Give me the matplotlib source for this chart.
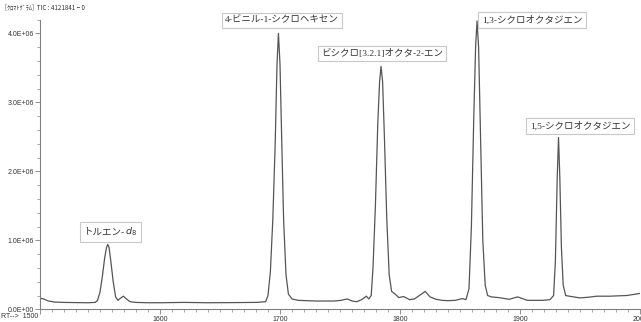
import matplotlib.pyplot as plt
from matplotlib.ticker import MultipleLocator, FixedLocator
from matplotlib.offsetbox import TextArea, HPacker, AnnotationBbox

# retention time (RT) and TIC intensity (x1e6 counts)
rt = [1500, 1503, 1507, 1512, 1520, 1530, 1540, 1546, 1548, 1550, 1552, 1554,
      1555.5, 1556.5, 1557.5, 1559, 1561, 1563, 1565, 1567, 1569.5, 1572, 1575,
      1580, 1590, 1600, 1620, 1640, 1660, 1680, 1688, 1690, 1692, 1694, 1696,
      1697.5, 1698.7, 1700, 1701.5, 1703, 1705, 1707, 1710, 1715, 1730, 1745,
      1751, 1756, 1760, 1764, 1768, 1772, 1774, 1776, 1777.5, 1779.5, 1781.5,
      1783, 1784.2, 1785.5, 1787, 1789, 1791, 1793, 1796, 1799, 1803, 1808,
      1812, 1817, 1821, 1825, 1830, 1835, 1840, 1846, 1852, 1855, 1857.5,
      1859.5, 1861.5, 1863, 1864.2, 1865.5, 1867, 1869, 1871, 1873, 1876, 1882,
      1891, 1898, 1906, 1913, 1919, 1925, 1928, 1929.5, 1931, 1932.1, 1933.2,
      1934.5, 1936, 1938, 1941, 1950, 1957, 1964, 1975, 1989, 2000]
tic = [0.16, 0.15, 0.12, 0.105, 0.10, 0.097, 0.095, 0.10, 0.13, 0.25, 0.48, 0.76,
       0.90, 0.94, 0.90, 0.70, 0.40, 0.18, 0.13, 0.16, 0.19, 0.15, 0.11,
       0.10, 0.095, 0.095, 0.10, 0.095, 0.097, 0.10, 0.11, 0.20, 0.55, 1.3, 2.4,
       3.55, 4.0, 3.55, 2.4, 1.3, 0.5, 0.22, 0.15, 0.13, 0.12, 0.12,
       0.13, 0.15, 0.12, 0.11, 0.14, 0.19, 0.15, 0.20, 0.6, 1.5, 2.7,
       3.3, 3.52, 3.3, 2.5, 1.3, 0.5, 0.26, 0.22, 0.17, 0.185, 0.14,
       0.15, 0.21, 0.26, 0.18, 0.145, 0.13, 0.125, 0.13, 0.155, 0.14, 0.3,
       1.2, 2.8, 3.8, 4.18, 3.8, 2.6, 1.0, 0.35, 0.2, 0.18, 0.17,
       0.145, 0.18, 0.13, 0.13, 0.13, 0.14, 0.2, 0.7, 1.9, 2.49, 1.9,
       0.9, 0.35, 0.2, 0.19, 0.165, 0.175, 0.19, 0.19, 0.2, 0.23]

peak_names = ["4-ビニル-1-シクロヘキセン", "ビシクロ[3.2.1]オクタ-2-エン",
              "1,3-シクロオクタジエン", "1,5-シクロオクタジエン"]
label_pos = [(1701.5, 4.19), (1785, 3.71), (1910, 4.19), (1950, 2.66)]
toluene_pos = (1559, 1.12)

x_ticks = [1500, 1600, 1700, 1800, 1900, 2000]
x_ticklabels = ["", "1600", "1700", "1800", "1900", "2000"]
y_ticks = [0, 1, 2, 3, 4]
y_ticklabels = ["0.0E+00", "1.0E+06", "2.0E+06", "3.0E+06", "4.0E+06"]

label_family = ["Liberation Serif", "Noto Sans CJK JP"]
box_style = dict(boxstyle="square,pad=0.35", fc="white", ec="#c8c8c8", lw=0.8)

fig = plt.figure(figsize=(6.41, 3.22), dpi=100)
ax = fig.add_axes([40 / 641, 12.7 / 322, 600 / 641, 289.8 / 322])

ax.plot(rt, tic, color="#555555", lw=0.9)
ax.set_xlim(1500, 2000)
ax.set_ylim(0, 4.2)

for s in ["top", "right"]:
    ax.spines[s].set_visible(False)
for s in ["left", "bottom"]:
    ax.spines[s].set_color("#808080")
    ax.spines[s].set_linewidth(0.8)

ax.xaxis.set_major_locator(FixedLocator(x_ticks))
ax.set_xticklabels(x_ticklabels)
ax.xaxis.set_minor_locator(MultipleLocator(10))
ax.yaxis.set_major_locator(FixedLocator(y_ticks))
ax.set_yticklabels(y_ticklabels)
ax.yaxis.set_minor_locator(MultipleLocator(0.2))

for lab in ax.get_xticklabels() + ax.get_yticklabels():
    lab.set_fontfamily("Liberation Sans")
    lab.set_fontsize(5)
    lab.set_color("#333333")
ax.tick_params(which="major", length=3.5, width=0.6, color="#808080", pad=1)
ax.tick_params(which="minor", length=2, width=0.5, color="#808080")

fig.text(1 / 641, 1 - 317 / 322, "RT-->  1500", family="Liberation Sans",
         fontsize=5, color="#333333", va="center", ha="left")
fig.text(5 / 641, 1 - 7 / 322, "[ｸﾛﾏﾄｸﾞﾗﾑ]  TIC : 4121841 − 0",
         family=["Noto Sans CJK JP", "DejaVu Sans"], fontsize=4.5,
         color="#333333", va="center", ha="left")

for name, (x, y) in zip(peak_names, label_pos):
    ax.text(x, y, name, family=label_family, fontsize=6.8, color="#333333",
            ha="center", va="center", bbox=box_style)

# toluene-d8: plain katakana plus an italic "d" with subscript 8
tol = HPacker(children=[
    TextArea("トルエン-", textprops=dict(family=label_family, fontsize=6.8,
                                        color="#333333")),
    TextArea("$d_8$", textprops=dict(fontsize=6.8, color="#333333")),
], align="baseline", pad=0, sep=0)
ab = AnnotationBbox(tol, toluene_pos, xycoords="data", frameon=True, pad=0.3,
                    bboxprops=dict(boxstyle="square", fc="white",
                                   ec="#c8c8c8", lw=0.8))
ax.add_artist(ab)

plt.savefig("out.png", dpi=100)
